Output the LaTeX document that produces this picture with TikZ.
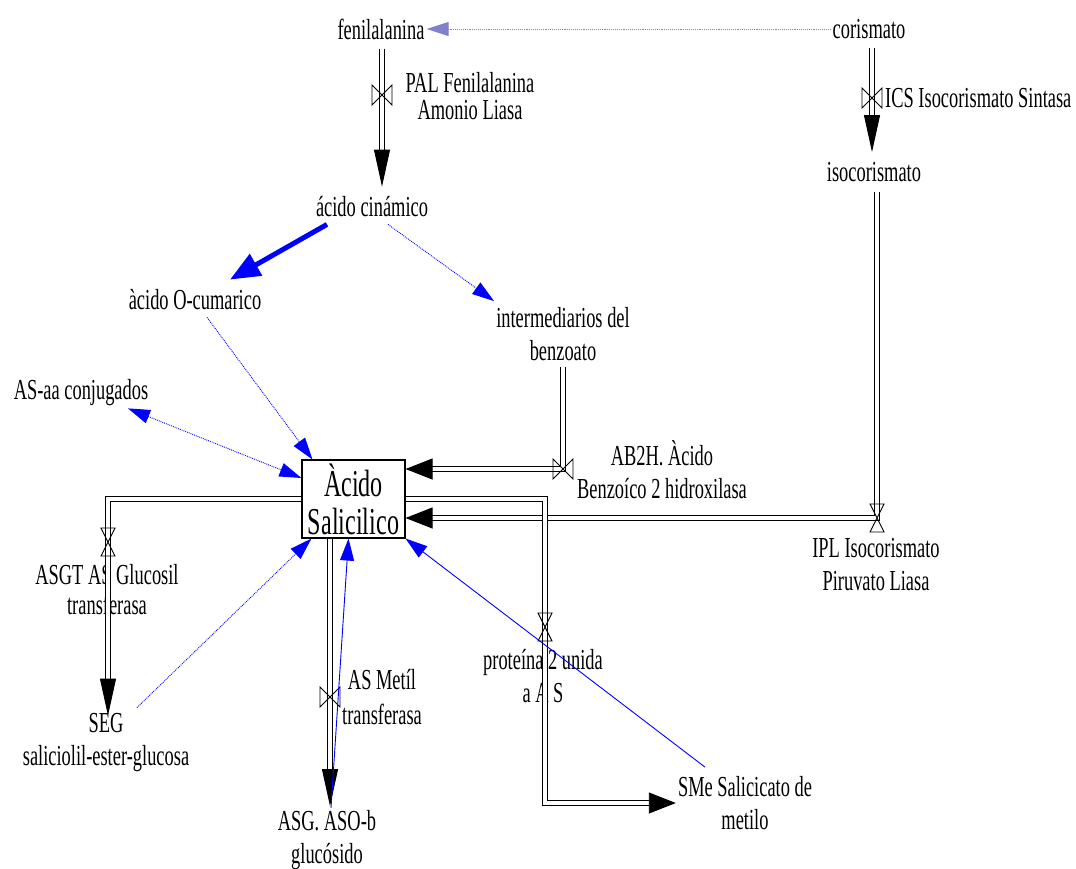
\documentclass[tikz,border=0pt]{standalone}
\usepackage{fontspec}
\setmainfont{Liberation Serif}[FakeStretch=0.635]
\usepackage{tikz}
\usetikzlibrary{arrows.meta}
\definecolor{lavend}{RGB}{128,128,204}

\tikzset{
  bowtie/.pic={\draw[line width=0.9pt] (-10,-10) -- (-10,10) -- (10,-10) -- (10,10) -- cycle;},
  hourglass/.pic={\draw[line width=0.9pt] (-7,-14) -- (7,-14) -- (-7,14) -- (7,14) -- cycle;},
}

\begin{document}
\begin{tikzpicture}[x=1pt,y=-1pt,
  mynodet/.style={align=center,inner sep=2pt,font=\fontsize{29}{33}\selectfont},
  mynodes/.style={draw,line width=1.1pt,align=center,inner sep=0pt,minimum width=103pt,minimum height=78pt,font=\fontsize{38}{38}\selectfont},
  mypipe/.style={draw=black,double=white,double distance=4.5pt,line width=0.9pt},
  vtip/.style={-{Triangle[length=37pt,width=16pt]}},
  htip/.style={-{Triangle[length=27pt,width=21pt]}},
  mylink/.style={draw=blue,line width=0.9pt,-{Triangle[length=22pt,width=14pt]}},
  mylinkd/.style={mylink,densely dotted},
  mylinkt/.style={draw=blue,line width=5pt,-{Triangle[length=30pt,width=24pt]}},
 ]
\useasboundingbox (0,0) rectangle (1076,868);

% stocks
\node[mynodet] (fen) at (381,29) {fenilalanina};
\node[mynodet] (cor) at (869,29) {corismato};
\node[mynodet] (acin) at (372,207) {ácido cinámico};
\node[mynodet] (isoc) at (874,172) {isocorismato};
\node[mynodet] (cum) at (195,300) {àcido O-cumarico};
\node[mynodet] (benz) at (563,334) {intermediarios del\\benzoato};
\node[mynodet] (asaa) at (81,393) {AS-aa conjugados};
\node[mynodes] (as) at (353.5,499) {Àcido\\Salicilico};
\node[mynodet] (seg) at (106,743) {SEG\\saliciolil-ester-glucosa};
\node[mynodet] (asg) at (327,840) {ASG. ASO-b\\glucósido};
\node[mynodet] (sme) at (745,803) {SMe Salicicato de\\metilo};

% valves
\coordinate (palv) at (382,95);
\coordinate (icsv) at (872,98);
\coordinate (iplv) at (877,518);
\coordinate (ab2hv) at (563,469);
\coordinate (asgtv) at (108,542);
\coordinate (protv) at (545,627);
\coordinate (asmtv) at (330,697);

% flow labels
\node[mynodet] (pall) at (470,96) {PAL Fenilalanina\\[-6pt]Amonio Liasa};
\node[mynodet,anchor=west] (icsl) at (883,98) {ICS Isocorismato Sintasa};
\node[mynodet] (ab2hl) at (662,470) {AB2H. Àcido\\Benzoíco 2 hidroxilasa};
\node[mynodet] (ipll) at (876,565) {IPL Isocorismato\\Piruvato Liasa};
\node[mynodet] (asgtl) at (107,590) {ASGT AS Glucosil\\[-3pt]transferasa};
\node[mynodet] (protl) at (543,676) {proteína 2 unida\\a A S};
\node[mynodet] (asmtl) at (382,697) {AS Metíl\\[2pt]transferasa};

% pipes
\draw[mypipe,vtip,shorten <=7pt,shorten >=8pt] (palv |- fen.south) -- (palv |- acin.north);
\draw[mypipe,vtip,shorten <=7pt,shorten >=8pt] (icsv |- cor.south) -- (icsv |- isoc.north);
\draw[mypipe,htip,shorten <=8pt] (iplv |- isoc.south) -- (iplv) -- (iplv -| as.east);
\draw[mypipe,htip,shorten <=4pt] (ab2hv |- benz.south) -- (ab2hv) -- (ab2hv -| as.east);
\draw[mypipe,htip] (as.east) -- (as.east -| protv) -- (protv) -- (protv |- sme.west) -- (sme.west);
\draw[mypipe,vtip,shorten >=-4pt] (as.west) -- (as.west -| asgtv) -- (asgtv) -- (asgtv |- seg.north);
\draw[mypipe,vtip,shorten >=2pt] (as.south -| asmtv) -- (asmtv) -- (asmtv |- asg.north);

\pic at (palv) {bowtie};
\pic at (icsv) {bowtie};
\pic at (iplv) {hourglass};
\pic at (ab2hv) {bowtie};
\pic at (asgtv) {hourglass};
\pic at (protv) {hourglass};
\pic at (asmtv) {bowtie};

% links
\draw[mylinkd,draw=lavend] (cor) -- (fen);
\draw[mylinkt] ([xshift=-45pt,yshift=-5pt]acin.south) -- ([xshift=35pt,yshift=8pt]cum.north);
\draw[mylinkd] ([xshift=16pt,yshift=-5pt]acin.south) -- ([yshift=4pt]benz.north west);
\draw[mylinkd] ([xshift=12pt,yshift=-5pt]cum.south) -- ([xshift=11pt]as.north west);
\draw[mylinkd,{Triangle[length=22pt,width=14pt]}-{Triangle[length=22pt,width=14pt]}] ([xshift=47pt]asaa.south) -- ([yshift=21pt]as.west);
\draw[mylinkd] ([xshift=31pt,yshift=4pt]seg.north) -- ([xshift=10pt]as.south west);
\draw[mylink] ([xshift=4pt]asg.north) -- ([xshift=-5pt]as.south);
\draw[mylink] ([xshift=-40pt,yshift=7pt]sme.north) -- (as.south east);

\end{tikzpicture}
\end{document}
